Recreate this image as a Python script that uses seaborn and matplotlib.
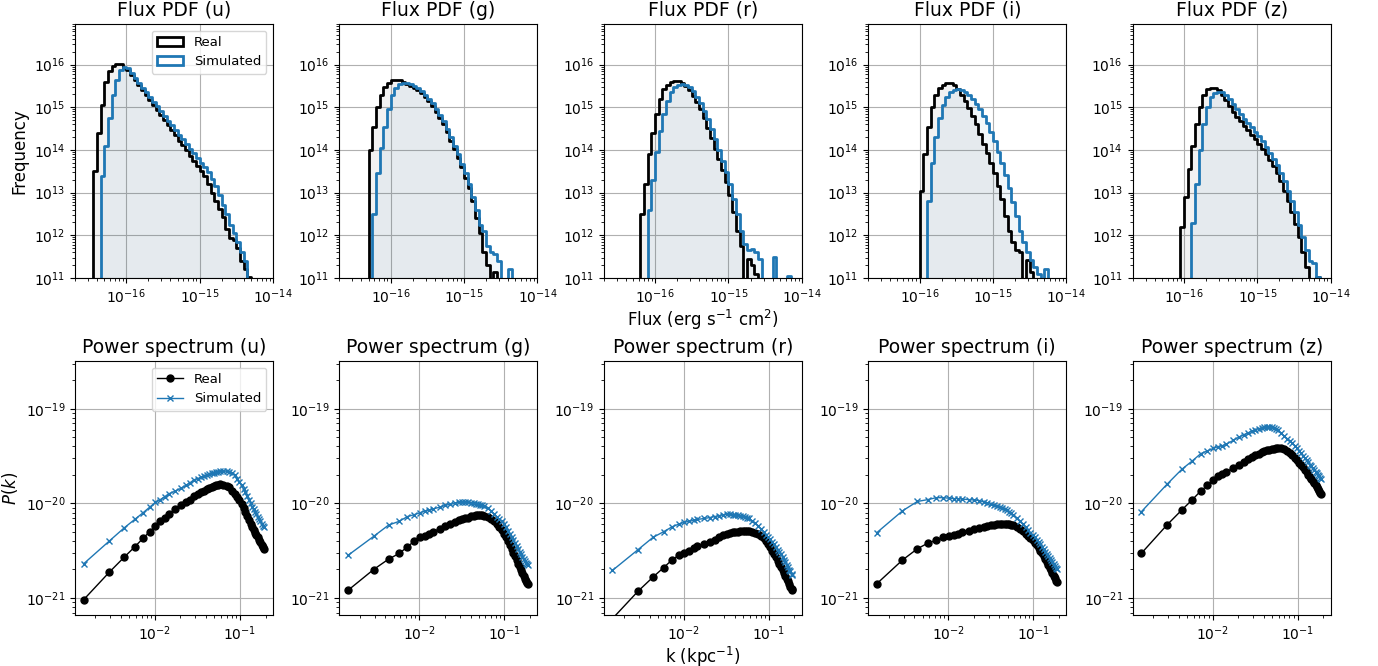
import numpy as np
import matplotlib
matplotlib.use("Agg")
import matplotlib.pyplot as plt
from matplotlib.patches import Patch
import seaborn as sns

bands = ['u', 'g', 'r', 'i', 'z']

#%% Flux PDF data: log10(frequency) per bin, 0 = empty bin
flux_edges = [round(-16.60 + 0.05 * n, 2) for n in range(53)]   # log10(flux) bin edges

pdf_u_real = [0, 0, 0, 13.5, 14.4, 15.05, 15.6, 15.85, 15.98, 16.02,
              16.01, 15.93, 15.87, 15.75, 15.64, 15.52, 15.4, 15.28, 15.17, 15.05,
              14.93, 14.81, 14.7, 14.58, 14.46, 14.34, 14.22, 14.11, 13.99, 13.87,
              13.75, 13.62, 13.5, 13.38, 13.2, 13.0, 12.8, 12.62, 12.42, 12.15,
              11.93, 11.88, 11.7, 11.4, 11.2, 11.02, 0, 0, 0, 0,
              0, 0]
pdf_u_sim = [0, 0, 0, 0, 0, 13.4, 14.1, 14.75, 15.3, 15.65,
             15.87, 15.95, 15.93, 15.8, 15.68, 15.56, 15.45, 15.35, 15.24, 15.13,
             15.02, 14.91, 14.8, 14.69, 14.58, 14.47, 14.36, 14.25, 14.14, 14.03,
             13.92, 13.81, 13.7, 13.6, 13.48, 13.33, 13.15, 12.95, 12.72, 12.5,
             12.25, 12.05, 11.85, 11.62, 11.4, 0, 0, 0, 0, 0,
             0, 0]
pdf_g_real = [0, 0, 0, 0, 0, 0, 14.0, 14.55, 15.0, 15.3,
              15.48, 15.58, 15.63, 15.64, 15.63, 15.6, 15.55, 15.5, 15.45, 15.4,
              15.33, 15.25, 15.14, 15.02, 14.9, 14.76, 14.6, 14.42, 14.22, 14.02,
              13.82, 13.6, 13.35, 13.1, 12.8, 12.4, 12.05, 11.6, 11.3, 0,
              11.15, 0, 0, 0, 0, 0, 0, 0, 0, 0,
              0, 0]
pdf_g_sim = [0, 0, 0, 0, 0, 0, 0, 12.5, 13.45, 14.05,
             14.55, 14.95, 15.28, 15.45, 15.54, 15.58, 15.58, 15.55, 15.5, 15.45,
             15.38, 15.3, 15.2, 15.09, 14.97, 14.83, 14.68, 14.5, 14.3, 14.1,
             13.9, 13.68, 13.45, 13.2, 12.9, 12.6, 12.25, 12.1, 11.75, 11.6,
             11.55, 11.4, 0, 0, 11.2, 0, 0, 0, 0, 0,
             0, 0]
pdf_r_real = [0, 0, 0, 0, 0, 0, 0, 0, 12.5, 13.2,
              13.9, 14.4, 14.85, 15.2, 15.42, 15.53, 15.6, 15.62, 15.62, 15.58,
              15.5, 15.4, 15.27, 15.12, 14.95, 14.75, 14.52, 14.28, 14.02, 13.78,
              13.52, 13.25, 12.95, 12.55, 12.1, 11.75, 0, 11.45, 11.3, 11.1,
              0, 0, 0, 0, 0, 0, 0, 0, 0, 0,
              0, 0]
pdf_r_sim = [0, 0, 0, 0, 0, 0, 0, 0, 0, 0,
             12.6, 13.3, 13.95, 14.45, 14.85, 15.15, 15.35, 15.47, 15.53, 15.55,
             15.53, 15.47, 15.38, 15.25, 15.1, 14.92, 14.72, 14.5, 14.25, 14.0,
             13.75, 13.48, 13.2, 12.85, 12.5, 12.1, 11.8, 11.65, 11.68, 11.6,
             11.45, 0, 0, 0, 11.5, 0, 0, 0, 11.05, 0,
             0, 0]
pdf_i_real = [0, 0, 0, 0, 0, 0, 0, 0, 0, 0,
              0, 0, 13.05, 13.9, 14.55, 15.0, 15.3, 15.45, 15.52, 15.56,
              15.56, 15.52, 15.42, 15.3, 15.15, 14.98, 14.8, 14.6, 14.38, 14.15,
              13.92, 13.7, 13.45, 13.15, 12.85, 12.45, 12.1, 11.85, 11.65, 11.6,
              0, 11.42, 11.15, 0, 0, 0, 0, 0, 0, 0,
              0, 0]
pdf_i_sim = [0, 0, 0, 0, 0, 0, 0, 0, 0, 0,
             0, 0, 0, 0, 12.8, 13.7, 14.3, 14.75, 15.05, 15.25,
             15.35, 15.4, 15.42, 15.41, 15.37, 15.3, 15.2, 15.08, 14.95, 14.8,
             14.63, 14.42, 14.2, 13.95, 13.7, 13.42, 13.1, 12.78, 12.45, 12.1,
             11.85, 11.62, 11.42, 11.25, 11.1, 0, 11.2, 0, 0, 0,
             0, 0]
pdf_z_real = [0, 0, 0, 0, 0, 0, 0, 0, 0, 0,
              0, 12.2, 12.9, 13.55, 14.1, 14.6, 15.0, 15.28, 15.43, 15.46,
              15.45, 15.4, 15.3, 15.17, 15.04, 14.9, 14.78, 14.67, 14.56, 14.46,
              14.36, 14.26, 14.15, 14.03, 13.9, 13.77, 13.63, 13.47, 13.27, 13.05,
              12.8, 12.55, 12.27, 11.95, 11.6, 11.25, 0, 0, 11.02, 0,
              0, 0]
pdf_z_sim = [0, 0, 0, 0, 0, 0, 0, 0, 0, 0,
             0, 0, 0, 0, 12.3, 13.2, 14.0, 14.6, 15.0, 15.25,
             15.33, 15.37, 15.36, 15.3, 15.2, 15.08, 14.95, 14.84, 14.73, 14.63,
             14.53, 14.43, 14.32, 14.2, 14.07, 13.94, 13.8, 13.65, 13.47, 13.27,
             13.05, 12.8, 12.55, 12.25, 11.95, 11.65, 11.4, 11.35, 11.02, 0,
             0, 0]

#%% Power spectrum data: log10 P(k) at k = n * dk
dk = 1.45e-3
k_index = [1, 2, 3, 4, 5, 6, 7, 8, 9, 10,
           12, 14, 16, 18, 20, 22, 24, 26, 28, 30, 32, 34, 36, 38, 40,
           44, 48, 52, 56, 60, 64, 68, 72, 76, 80, 84, 88, 92, 96, 100,
           104, 108, 112, 116, 120, 124, 128, 131]

ps_u_real = [-21.02, -20.73, -20.57, -20.46, -20.37, -20.30, -20.24, -20.19, -20.15, -20.11,
             -20.06, -20.02, -19.99, -19.96, -19.92, -19.90, -19.88, -19.865, -19.85, -19.84,
             -19.83, -19.82, -19.81, -19.805, -19.80,
             -19.805, -19.815, -19.83, -19.865, -19.90, -19.93, -19.965, -20.005, -20.05, -20.09,
             -20.135, -20.18, -20.215, -20.255, -20.285, -20.31, -20.335, -20.36, -20.385, -20.41,
             -20.44, -20.465, -20.48]
ps_u_sim = [-20.64, -20.40, -20.26, -20.17, -20.10, -20.04, -19.99, -19.96, -19.93, -19.90,
            -19.87, -19.84, -19.81, -19.78, -19.75, -19.74, -19.72, -19.71, -19.70, -19.69,
            -19.68, -19.675, -19.67, -19.665, -19.66,
            -19.66, -19.66, -19.665, -19.675, -19.70, -19.74, -19.77, -19.81, -19.845, -19.885,
            -19.92, -19.96, -19.995, -20.035, -20.065, -20.09, -20.115, -20.14, -20.165, -20.19,
            -20.215, -20.235, -20.25]
ps_g_real = [-20.92, -20.70, -20.59, -20.53, -20.46, -20.40, -20.36, -20.34, -20.32, -20.30,
             -20.27, -20.24, -20.22, -20.20, -20.18, -20.17, -20.16, -20.15, -20.135, -20.13,
             -20.125, -20.12, -20.12, -20.125, -20.13,
             -20.145, -20.165, -20.19, -20.22, -20.25, -20.285, -20.32, -20.36, -20.40, -20.44,
             -20.48, -20.52, -20.56, -20.60, -20.64, -20.67, -20.71, -20.74, -20.77, -20.80,
             -20.82, -20.84, -20.85]
ps_g_sim = [-20.55, -20.35, -20.23, -20.19, -20.14, -20.12, -20.10, -20.08, -20.07, -20.06,
            -20.04, -20.02, -20.01, -20.0, -19.99, -19.99, -19.985, -19.99, -19.995, -20.0,
            -20.005, -20.01, -20.015, -20.02, -20.025,
            -20.05, -20.08, -20.11, -20.14, -20.165, -20.19, -20.215, -20.25, -20.29, -20.32,
            -20.355, -20.39, -20.42, -20.455, -20.485, -20.515, -20.54, -20.565, -20.59, -20.61,
            -20.63, -20.645, -20.656]
ps_r_real = [-21.22, -20.93, -20.78, -20.68, -20.60, -20.55, -20.52, -20.50, -20.475, -20.455,
             -20.43, -20.41, -20.39, -20.36, -20.33, -20.32, -20.31, -20.305, -20.30, -20.30,
             -20.295, -20.29, -20.29, -20.29, -20.295,
             -20.30, -20.31, -20.325, -20.345, -20.37, -20.40, -20.425, -20.46, -20.50, -20.535,
             -20.57, -20.605, -20.64, -20.675, -20.705, -20.735, -20.765, -20.80, -20.825, -20.855,
             -20.88, -20.905, -20.92]
ps_r_sim = [-20.71, -20.49, -20.36, -20.30, -20.25, -20.22, -20.20, -20.19, -20.18, -20.17,
            -20.16, -20.15, -20.14, -20.13, -20.12, -20.115, -20.115, -20.12, -20.12, -20.125,
            -20.13, -20.135, -20.14, -20.15, -20.16,
            -20.185, -20.21, -20.24, -20.27, -20.30, -20.33, -20.355, -20.38, -20.41, -20.435,
            -20.46, -20.49, -20.515, -20.54, -20.565, -20.595, -20.62, -20.65, -20.675, -20.70,
            -20.72, -20.745, -20.76]
ps_i_real = [-20.85, -20.60, -20.48, -20.42, -20.39, -20.36, -20.34, -20.33, -20.32, -20.305,
             -20.29, -20.27, -20.26, -20.245, -20.235, -20.23, -20.225, -20.22, -20.22, -20.215,
             -20.215, -20.215, -20.22, -20.225, -20.23,
             -20.25, -20.27, -20.29, -20.32, -20.34, -20.365, -20.385, -20.415, -20.445, -20.47,
             -20.50, -20.525, -20.56, -20.59, -20.62, -20.65, -20.68, -20.71, -20.74, -20.77,
             -20.79, -20.82, -20.83]
ps_i_sim = [-20.31, -20.08, -19.98, -19.96, -19.94, -19.94, -19.945, -19.95, -19.95, -19.955,
            -19.96, -19.965, -19.97, -19.985, -20.0, -20.01, -20.02, -20.03, -20.04, -20.05,
            -20.06, -20.07, -20.09, -20.10, -20.12,
            -20.16, -20.19, -20.22, -20.25, -20.28, -20.31, -20.335, -20.36, -20.385, -20.41,
            -20.435, -20.46, -20.485, -20.51, -20.535, -20.56, -20.58, -20.60, -20.62, -20.64,
            -20.66, -20.68, -20.69]
ps_z_real = [-20.53, -20.23, -20.07, -19.96, -19.87, -19.81, -19.755, -19.71, -19.685, -19.665,
             -19.63, -19.59, -19.56, -19.53, -19.51, -19.49, -19.475, -19.46, -19.45, -19.44,
             -19.435, -19.43, -19.425, -19.42, -19.42,
             -19.42, -19.43, -19.45, -19.47, -19.49, -19.52, -19.545, -19.57, -19.595, -19.62,
             -19.645, -19.67, -19.695, -19.72, -19.74, -19.765, -19.79, -19.81, -19.83, -19.85,
             -19.87, -19.89, -19.90]
ps_z_sim = [-20.09, -19.80, -19.64, -19.55, -19.475, -19.445, -19.42, -19.40, -19.39, -19.375,
            -19.335, -19.30, -19.275, -19.255, -19.235, -19.22, -19.21, -19.20, -19.197, -19.195,
            -19.19, -19.19, -19.20, -19.21, -19.225,
            -19.26, -19.29, -19.315, -19.34, -19.365, -19.39, -19.415, -19.445, -19.47, -19.495,
            -19.52, -19.545, -19.565, -19.59, -19.61, -19.625, -19.645, -19.665, -19.68, -19.70,
            -19.715, -19.73, -19.74]

pdf_real = dict(zip(bands, [pdf_u_real, pdf_g_real, pdf_r_real, pdf_i_real, pdf_z_real]))
pdf_sim = dict(zip(bands, [pdf_u_sim, pdf_g_sim, pdf_r_sim, pdf_i_sim, pdf_z_sim]))
ps_real = dict(zip(bands, [ps_u_real, ps_g_real, ps_r_real, ps_i_real, ps_z_real]))
ps_sim = dict(zip(bands, [ps_u_sim, ps_g_sim, ps_r_sim, ps_i_sim, ps_z_sim]))

#%% Figure
fig, axes = plt.subplots(2, 5, figsize=(13.78, 6.66), dpi=100)
fig.subplots_adjust(left=0.0544, right=0.9657, top=0.964, bottom=0.0766,
                    wspace=0.335, hspace=0.327)

centres = 10 ** (np.array(flux_edges[:-1]) + 0.025)
blue = '#1f77b4'

def flux_hist(ax, heights, **kws):
    h = np.array(heights)
    w = np.where(h > 0, 10.0 ** h, 0.0)
    sns.histplot(x=centres, weights=w, bins=flux_edges, log_scale=True,
                 element='step', ax=ax, **kws)

for j, b in enumerate(bands):
    ax = axes[0, j]
    # light fills first, outlines on top
    flux_hist(ax, pdf_real[b], fill=True, color='k', alpha=0.05, linewidth=0)
    flux_hist(ax, pdf_sim[b], fill=True, color=blue, alpha=0.06, linewidth=0)
    flux_hist(ax, pdf_real[b], fill=False, color='k', linewidth=2)
    flux_hist(ax, pdf_sim[b], fill=False, color=blue, linewidth=2)
    ax.set_yscale('log')
    ax.set_xlim(2e-17, 1e-14)
    ax.set_ylim(1e11, 9e16)
    ax.grid(True)
    ax.set_axisbelow(True)
    ax.set_title('Flux PDF (%s)' % b, fontsize=13.5)
    ax.set_xlabel('')
    ax.set_ylabel('')
    ax.tick_params(labelsize=10)

axes[0, 0].set_ylabel('Frequency', fontsize=12)
axes[0, 2].set_xlabel('Flux (erg s$^{-1}$ cm$^{2}$)', fontsize=12, labelpad=1)
handles = [Patch(facecolor='none', edgecolor='k', linewidth=2, label='Real'),
           Patch(facecolor='none', edgecolor=blue, linewidth=2, label='Simulated')]
axes[0, 0].legend(handles=handles, loc='upper right', fontsize=9.5)

k = dk * np.array(k_index)
for j, b in enumerate(bands):
    ax = axes[1, j]
    sns.lineplot(x=k, y=10.0 ** np.array(ps_real[b]), color='k', marker='o',
                 markersize=5, mec='k', mew=1, linewidth=1, label='Real', ax=ax)
    sns.lineplot(x=k, y=10.0 ** np.array(ps_sim[b]), color=blue, marker='x',
                 markersize=5, mec=blue, mew=1, linewidth=1, label='Simulated', ax=ax)
    ax.set(xscale='log', yscale='log')
    ax.set_xlim(1.15e-3, 0.245)
    ax.set_ylim(6.6e-22, 3.2e-19)
    ax.grid(True)
    ax.set_axisbelow(True)
    ax.set_title('Power spectrum (%s)' % b, fontsize=13.5)
    ax.set_xlabel('')
    ax.set_ylabel('')
    ax.tick_params(labelsize=10)
    if j == 0:
        ax.legend(loc='upper right', fontsize=9.5)
    elif ax.get_legend() is not None:
        ax.get_legend().remove()

axes[1, 0].set_ylabel('$P(k)$', fontsize=12)
axes[1, 2].set_xlabel('k (kpc$^{-1}$)', fontsize=12, labelpad=1)

fig.savefig('out.png', dpi=100)
